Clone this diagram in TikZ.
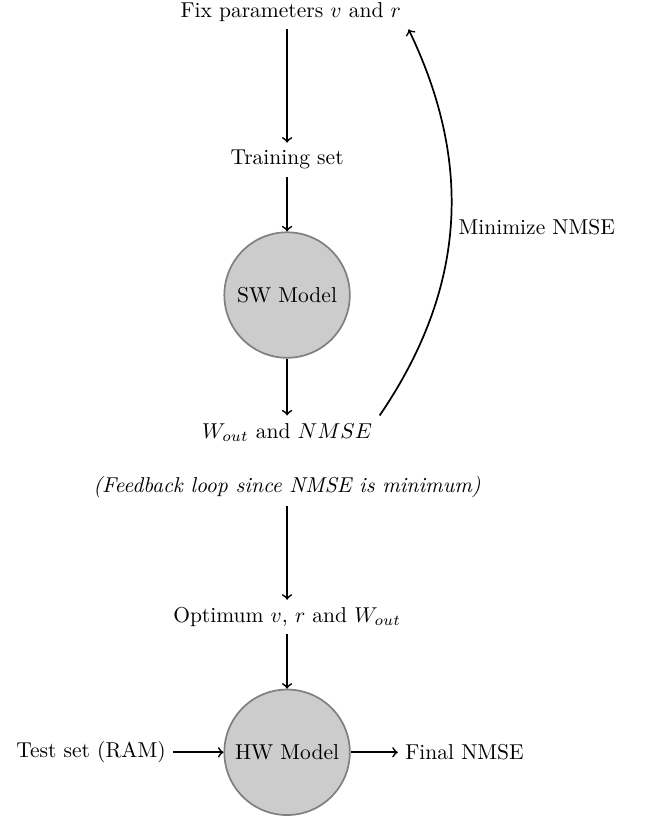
\documentclass[tikz,border=0pt]{standalone}
\usetikzlibrary{positioning}

\begin{document}
\begin{tikzpicture}[
  model/.style={
    circle,
    draw=gray,
    thick,
    fill=black!20,
    minimum size=2.05cm
  },
  label/.style={
    align=center
  },
  flow/.style={
    ->,
    thick
  }
]

\useasboundingbox (0,0) rectangle (10.64,-13.38);

\node[label] (fix) at (4.75,-0.20) {Fix parameters $v$ and $r$};
\node[label] (train) at (4.69,-2.61) {Training set};
\node[model] (sw) at (4.69,-4.82) {SW Model};
\node[label] (wout) at (4.69,-7.06) {$W_{out}$ and $NMSE$};
\node[label, font=\itshape] (loop) at (4.69,-7.96)
  {(Feedback loop since NMSE is minimum)};
\node[label] (opt) at (4.69,-10.08) {Optimum $v$, $r$ and $W_{out}$};
\node[model] (hw) at (4.69,-12.29) {HW Model};
\node[label, left=0.82cm of hw] (test) {Test set (RAM)};
\node[label, right=0.77cm of hw] (final) {Final NMSE};

\draw[flow] (train |- fix.south) -- (train);
\draw[flow] (train) -- (sw);
\draw[flow] (sw) -- (wout);
\draw[flow] (loop) -- (opt);
\draw[flow] (opt) -- (hw);
\draw[flow] (test) -- (hw);
\draw[flow] (hw) -- (final);

\draw[flow] (wout.north east) to[bend right=30]
  node[right] {Minimize NMSE} (fix.south east);

\end{tikzpicture}
\end{document}
